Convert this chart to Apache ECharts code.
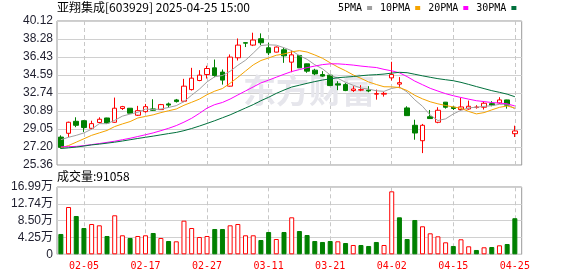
<!DOCTYPE html>
<html><head><meta charset="utf-8">
<script src="https://cdn.jsdelivr.net/npm/echarts@6/dist/echarts.min.js"></script>
<style>html,body{margin:0;padding:0;background:#fff}#c{width:578px;height:276px}</style>
</head><body><div id="c"></div>
<script>
const dates = ['01-23','01-24','01-27','02-05','02-06','02-07','02-10','02-11','02-12','02-13','02-14','02-17','02-18','02-19','02-20','02-21','02-24','02-25','02-26','02-27','02-28','03-03','03-04','03-05','03-06','03-07','03-10','03-11','03-12','03-13','03-14','03-17','03-18','03-19','03-20','03-21','03-24','03-25','03-26','03-27','03-28','03-31','04-01','04-02','04-03','04-07','04-08','04-09','04-10','04-11','04-14','04-15','04-16','04-17','04-18','04-21','04-22','04-23','04-24','04-25'];
const opens = [28.22,28.61,29.84,29.90,29.12,29.72,30.18,29.74,31.15,31.18,30.46,30.83,31.11,31.04,31.62,32.03,31.90,33.09,34.02,34.63,35.32,34.88,33.44,36.35,37.90,37.65,38.30,37.38,36.93,37.17,35.90,36.59,35.73,35.08,34.63,34.57,33.68,33.60,33.00,33.04,33.03,32.62,32.62,34.29,33.65,31.21,29.43,27.85,30.31,29.74,31.80,31.28,31.04,31.10,31.25,31.28,31.65,31.72,32.03,28.57];
const closes = [27.17,29.74,29.43,29.20,29.60,30.05,29.67,31.18,31.34,30.67,30.93,31.34,30.97,31.55,31.50,31.86,33.44,34.26,34.57,35.25,34.53,34.06,36.42,37.65,37.85,38.17,37.89,36.86,37.45,36.55,36.65,35.32,34.98,34.70,34.47,33.50,33.55,32.99,33.15,33.08,32.95,32.68,32.70,34.63,33.80,30.42,28.64,29.43,30.12,30.97,31.28,31.15,31.31,31.38,31.30,31.69,31.50,32.03,31.49,28.85];
const lows = [27.03,28.22,29.24,28.74,29.02,29.64,29.56,29.70,31.00,30.65,30.39,30.73,30.90,31.00,31.24,31.76,31.80,32.99,33.95,34.22,34.36,33.60,33.40,36.07,37.45,37.55,37.65,36.62,36.90,35.83,34.87,35.30,34.81,34.57,34.40,33.45,33.03,32.93,32.85,32.93,32.82,32.06,32.37,34.02,33.23,30.40,27.95,26.58,30.10,29.64,31.14,31.00,30.93,31.04,31.14,31.04,31.38,31.62,31.14,28.23];
const highs = [28.40,29.80,30.25,29.97,29.90,30.25,30.20,32.27,31.42,31.20,31.42,31.62,32.10,31.62,31.76,32.13,34.19,35.32,35.08,35.53,36.17,35.15,36.69,38.33,37.92,38.92,38.85,37.89,37.50,37.38,37.10,36.62,35.75,35.22,34.98,34.65,33.95,33.75,33.44,33.54,33.44,33.09,32.85,35.94,34.37,31.38,30.00,29.57,31.00,31.28,31.82,31.38,32.24,31.96,31.49,31.83,31.90,32.31,32.05,29.39];
const volumes = [51300,119400,96700,66400,76500,73200,46200,98500,48000,41200,46200,48000,53800,41200,33600,32800,84900,66400,43700,46200,63900,63900,73200,76500,48000,48000,36100,56300,38600,56300,93400,58800,48700,33600,31100,33600,32800,28500,23500,23500,21000,31100,23500,159000,93400,38600,86600,70700,53000,45400,30300,21000,37900,20200,10900,17700,18400,22700,26000,91058];
const ma5 = [27.95,28.20,28.40,28.65,29.03,29.60,29.59,29.94,30.37,30.58,30.76,31.09,31.05,31.09,31.26,31.44,31.86,32.52,33.13,33.88,34.41,34.53,34.97,35.58,36.10,36.83,37.60,37.68,37.64,37.38,37.08,36.57,36.19,35.64,35.22,34.59,34.24,33.84,33.53,33.25,33.14,32.97,32.91,33.21,33.35,32.85,32.04,31.38,30.48,29.92,30.09,30.59,30.97,31.22,31.28,31.37,31.44,31.58,31.60,31.11];
const ma10 = [27.12,27.35,27.70,28.05,28.40,28.65,28.90,29.30,29.57,29.81,30.18,30.34,30.50,30.73,30.92,31.10,31.48,31.79,32.11,32.57,32.93,33.20,33.74,34.35,34.99,35.62,36.07,36.33,36.61,36.74,36.96,37.08,36.94,36.64,36.30,35.84,35.40,35.02,34.59,34.24,33.87,33.61,33.38,33.37,33.30,32.99,32.50,32.14,31.84,31.63,31.46,31.31,31.18,30.85,30.60,30.73,31.01,31.27,31.41,31.20];
const ma20 = [27.22,27.24,27.27,27.35,27.45,27.56,27.68,27.80,27.95,28.10,28.28,28.46,28.65,28.88,29.12,29.40,29.75,30.15,30.65,31.19,31.55,31.77,32.12,32.54,32.95,33.36,33.77,34.06,34.36,34.66,34.94,35.14,35.34,35.50,35.65,35.73,35.73,35.67,35.60,35.50,35.42,35.35,35.16,35.01,34.81,34.42,33.96,33.59,33.22,32.94,32.67,32.46,32.28,32.11,31.95,31.86,31.76,31.71,31.63,31.41];
const ma30 = [27.05,27.12,27.20,27.30,27.42,27.50,27.60,27.70,27.82,27.95,28.08,28.20,28.32,28.45,28.58,28.70,28.88,29.10,29.35,29.62,29.90,30.20,30.50,30.85,31.20,31.55,31.95,32.30,32.70,33.04,33.35,33.54,33.73,33.91,34.07,34.19,34.31,34.37,34.43,34.51,34.58,34.62,34.68,34.78,34.86,34.82,34.66,34.50,34.35,34.21,34.10,34.00,33.83,33.62,33.40,33.19,32.98,32.81,32.62,32.36];
const priceTicks = ['25.36','27.20','29.05','30.89','32.74','34.59','36.43','38.28','40.12'];
const volTicks = ['0','4.25万','8.50万','12.74万','16.99万'];
const dateTicks = ['02-05','02-17','02-27','03-11','03-21','04-02','04-15','04-25'];
const maNames = ['5PMA','10PMA','20PMA','30PMA'];
const titleText = '亚翔集成[603929] 2025-04-25 15:00';
const volTitle = '成交量:91058';

const RED = '#ff0000', GREEN = '#008000';
const maColors = ['#a0a0a0','#f5a300','#ff00ff','#00703c'];
const PMIN = 25.36, PMAX = 40.12, PINT = 1.845;
const VMAX = 169900, VINT = 42475;

const candleData = opens.map((o, i) => [o, closes[i], lows[i], highs[i]]);
const volData = volumes.map((v, i) => {
  const down = i === 0 ? closes[0] < opens[0] : closes[i] < closes[i - 1];
  return { value: v, itemStyle: down ? { color: GREEN, borderColor: GREEN, borderWidth: 1 } : { color: '#ffffff', borderColor: RED, borderWidth: 1 } };
});

const L = 57, WC = 461.7, WF = 464.7;
const tickLine = len => ({ show: true, inside: true, length: len, alignWithLabel: true,
  interval: (i, v) => dateTicks.includes(v), lineStyle: { color: '#c8c8c8', type: [4, 3], width: 1 } });
const yLabel = { color: '#1e1e2e', fontSize: 12, fontFamily: 'Liberation Sans, "Noto Sans CJK SC"', margin: 4 };

const chart = echarts.init(document.getElementById('c'), null, { renderer: 'canvas' });
chart.setOption({
  animation: false,
  backgroundColor: '#ffffff',
  grid: [
    { left: L, top: 21, width: WC, height: 144 },
    { left: L, top: 187, width: WC, height: 67.3 },
    { left: L, top: 21, width: WF, height: 144, show: true, borderColor: '#999', borderWidth: 1, backgroundColor: 'transparent' },
    { left: L, top: 187, width: WF, height: 67.3, show: true, borderColor: '#999', borderWidth: 1, backgroundColor: 'transparent' }
  ],
  xAxis: [
    { type: 'category', gridIndex: 0, data: dates, boundaryGap: true, axisLine: { show: false }, axisLabel: { show: false }, axisTick: tickLine(144), splitLine: { show: false } },
    { type: 'category', gridIndex: 1, data: dates, boundaryGap: true, axisLine: { show: false }, axisTick: tickLine(67.3), splitLine: { show: false },
      axisLabel: { show: true, interval: (i, v) => dateTicks.includes(v), color: RED, fontSize: 10, fontFamily: '"DejaVu Sans Mono"', margin: 7 } },
    { type: 'value', gridIndex: 2, min: 0, max: 1, show: false },
    { type: 'value', gridIndex: 3, min: 0, max: 1, show: false }
  ],
  yAxis: [
    { type: 'value', gridIndex: 0, min: PMIN, max: PMAX, show: false },
    { type: 'value', gridIndex: 1, min: 0, max: VMAX, show: false },
    { type: 'value', gridIndex: 2, min: PMIN, max: PMAX, interval: PINT, axisLine: { show: false }, axisTick: { show: false },
      splitLine: { show: true, lineStyle: { color: '#d0d0d0', width: 1 } },
      axisLabel: Object.assign({ formatter: v => priceTicks[Math.round((v - PMIN) / PINT)] }, yLabel) },
    { type: 'value', gridIndex: 3, min: 0, max: VMAX, interval: VINT, axisLine: { show: false }, axisTick: { show: false },
      splitLine: { show: true, lineStyle: { color: '#d0d0d0', width: 1 } },
      axisLabel: Object.assign({ formatter: v => volTicks[Math.round(v / VINT)] }, yLabel) }
  ],
  legend: {
    data: maNames.map(n => ({ name: n, icon: 'rect' })),
    left: 338, top: 3, padding: 0, itemWidth: 5, itemHeight: 4, itemGap: 8, align: 'right', selectedMode: false,
    textStyle: { fontFamily: '"DejaVu Sans Mono"', fontSize: 10, color: '#000' }
  },
  graphic: [
    { type: 'text', left: 57, top: 1, z: 10, style: { text: titleText, font: '12px "Noto Sans CJK SC"', fill: '#000' } },
    { type: 'text', left: 57, top: 170, z: 10, style: { text: volTitle, font: '12px "Noto Sans CJK SC"', fill: '#000' } },
    { type: 'text', left: 243, top: 74, z: 1, style: { text: '东方财富', font: 'bold 33px "Noto Sans CJK SC"', fill: '#e6e6ec' } }
  ],
  series: [
    { type: 'candlestick', name: 'K', xAxisIndex: 0, yAxisIndex: 0, data: candleData, barWidth: 5,
      itemStyle: { color: '#ffffff', color0: GREEN, borderColor: RED, borderColor0: GREEN, borderWidth: 1 } },
    ...[ma5, ma10, ma20, ma30].map((d, k) => ({
      type: 'line', name: maNames[k], xAxisIndex: 0, yAxisIndex: 0, data: d, showSymbol: false, symbol: 'none',
      lineStyle: { color: maColors[k], width: 1 }, itemStyle: { color: maColors[k] }, z: 3
    })),
    { type: 'bar', name: 'VOL', xAxisIndex: 1, yAxisIndex: 1, data: volData, barWidth: 5 }
  ]
});
</script></body></html>
